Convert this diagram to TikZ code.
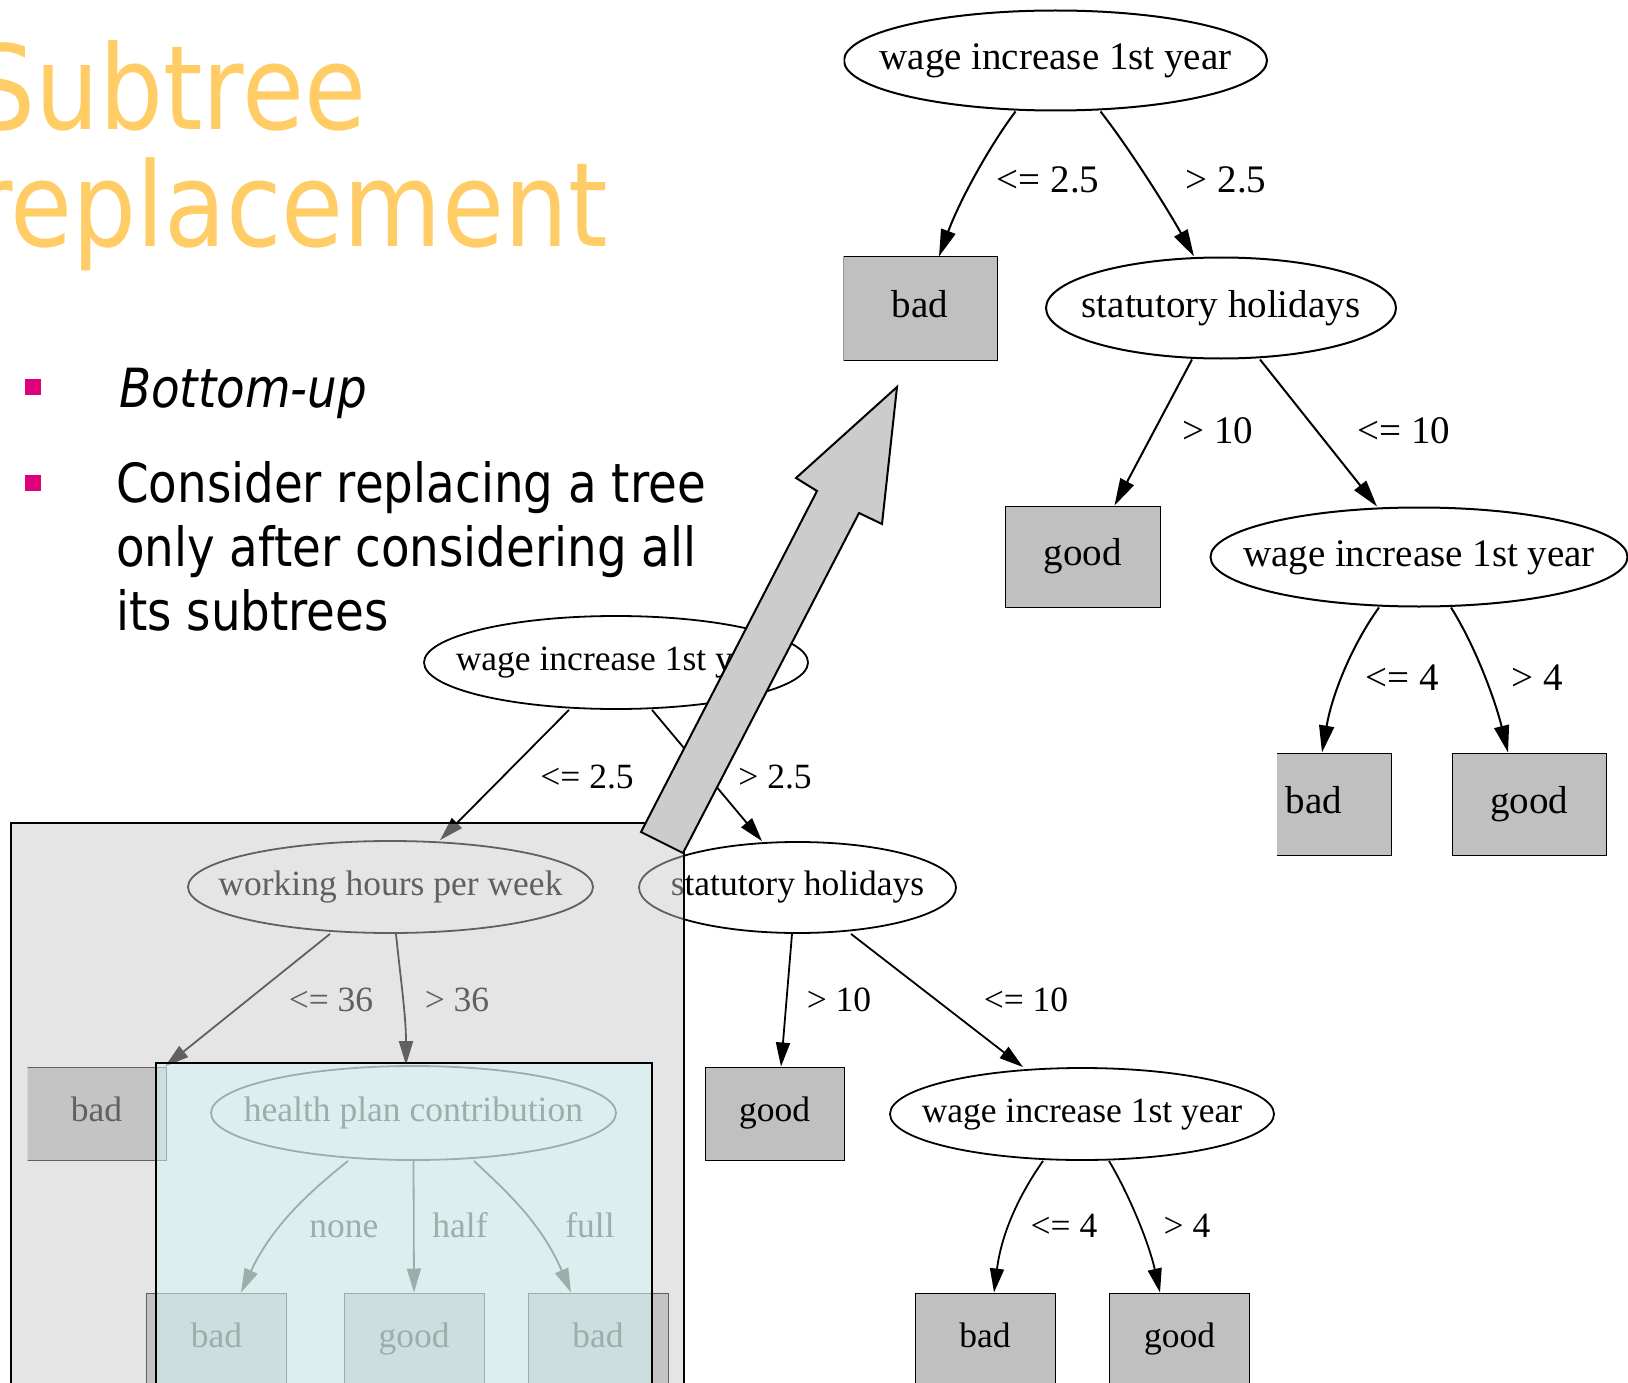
\documentclass[tikz,border=0pt]{standalone}
\usepackage{fontspec}
\setmainfont{Liberation Serif}
\newfontfamily\titlefont[FakeStretch=0.862]{DejaVu Sans}
\newfontfamily\bodyfont[FakeStretch=0.866]{DejaVu Sans}
\usetikzlibrary{shapes.geometric,arrows.meta}
\definecolor{titleorange}{RGB}{255,204,102}
\definecolor{bulletpink}{RGB}{224,0,122}
\definecolor{leafgray}{RGB}{192,192,192}
\definecolor{greyveil}{RGB}{201,201,201}
\definecolor{tealveil}{RGB}{212,249,247}
\definecolor{arrowgray}{RGB}{204,204,204}
\begin{document}
\begin{tikzpicture}[x=1pt,y=-1pt,
  topnode/.style={inner sep=0pt, font=\fontsize{39}{42}\selectfont, text height=27pt, text depth=8.5pt},
  botnode/.style={inner sep=0pt, font=\fontsize{35.5}{38}\selectfont, text height=24.5pt, text depth=7.7pt},
  topell/.style={topnode, ellipse, draw, line width=2pt},
  botell/.style={botnode, ellipse, draw, line width=1.8pt},
  topleaf/.style={topnode, rectangle, draw, fill=leafgray, line width=1pt},
  botleaf/.style={botnode, rectangle, draw, fill=leafgray, line width=1pt},
  toplab/.style={inner sep=0pt, font=\fontsize{39}{42}\selectfont, text height=26pt, text depth=0pt},
  botlab/.style={inner sep=0pt, font=\fontsize{35.5}{38}\selectfont, text height=24pt, text depth=0pt},
  topedge/.style={line width=2pt, -{Triangle[length=27pt,width=15pt]}},
  botedge/.style={line width=1.8pt, -{Triangle[length=24pt,width=14pt]}},
  titletext/.style={anchor=base west, inner sep=0pt, text=titleorange, font=\titlefont\fontsize{117}{120}\selectfont},
  bodytext/.style={anchor=base west, inner sep=0pt, font=\bodyfont\fontsize{54}{60}\selectfont}
]
\useasboundingbox (0,0) rectangle (1628,1383);
\fill[white] (0,0) rectangle (1628,1383);
\clip (0,0) rectangle (1628,1383);

% ---------- title and bullets ----------
\node[titletext] (title1) at (-29,130) {Subtree};
\node[titletext] (title2) at (-29,247) {replacement};
\fill[bulletpink] (25,379) rectangle (41,395);
\fill[bulletpink] (25,475) rectangle (41,491);
\node[bodytext] (b1) at (119,407) {\itshape Bottom-up};
\node[bodytext] (b2a) at (116,502) {Consider replacing a tree};
\node[bodytext] (b2b) at (116,566) {only after considering all};
\node[bodytext] (b2c) at (116,630) {its subtrees};

% ---------- top (pruned) tree ----------
\begin{scope}
\clip (843.5,0) rectangle (1628,855);
\node[topell, minimum width=423pt, minimum height=100pt] (t0) at (1055.5,60.5) {\makebox[0pt]{wage increase 1st year}};
\node[topleaf, minimum width=154pt, minimum height=103pt] (tbad) at (920,308.5) {bad};
\node[topell, minimum width=350pt, minimum height=101pt] (ts) at (1221,308) {\makebox[0pt]{statutory holidays}};
\node[topleaf, minimum width=155pt, minimum height=101pt] (tgood) at (1082.5,556.5) {good};
\node[topell, minimum width=417pt, minimum height=99pt] (tw) at (1419,557) {\makebox[0pt]{wage increase 1st year}};
\begin{scope}
\clip (1277,700) rectangle (1440,900);
\node[topleaf, minimum width=154pt, minimum height=102pt] (tbad2) at (1314,804) {bad};
\end{scope}
\node[topleaf, minimum width=154pt, minimum height=102pt] (tgood2) at (1529,804) {good};

\draw[topedge] ([xshift=-40pt]t0.south) .. controls +(-25,33) and +(21,-57) .. ([xshift=19pt]tbad.north);
\draw[topedge] ([xshift=45pt]t0.south) .. controls +(26,33) and +(-29,-52) .. ([xshift=-27pt]ts.north);
\draw[topedge] ([xshift=-29pt]ts.south) -- ([xshift=32pt]tgood.north);
\draw[topedge] ([xshift=39pt]ts.south) -- ([xshift=-42pt]tw.north);
\draw[topedge] ([xshift=-40pt]tw.south) .. controls +(-24,33) and +(11,-63) .. ([xshift=8pt]tbad2.north);
\draw[topedge] ([xshift=32pt]tw.south) .. controls +(24,38) and +(-13,-53) .. ([xshift=-21pt]tgood2.north);

\node[toplab] (tl1) at (1048,180) {<= 2.5};
\node[toplab] (tl2) at (1226,180) {> 2.5};
\node[toplab] (tl3) at (1218,430) {> 10};
\node[toplab] (tl4) at (1404,430) {<= 10};
\node[toplab] (tl5) at (1402,677) {<= 4};
\node[toplab] (tl6) at (1537,677) {> 4};
\end{scope}

% ---------- bottom (full) tree ----------
\begin{scope}
\clip (27.5,0) rectangle (1628,1383);
\node[botell, minimum width=384pt, minimum height=93pt] (r0) at (616,662.5) {\makebox[0pt]{wage increase 1st year}};
\node[botell, minimum width=405pt, minimum height=92pt] (rw) at (390.5,887) {\makebox[0pt]{working hours per week}};
\node[botell, minimum width=317pt, minimum height=91pt] (rs) at (797.5,887.5) {\makebox[0pt]{statutory holidays}};
\node[botleaf, minimum width=140pt, minimum height=93pt] (rbad) at (96.5,1113.5) {bad};
\node[botell, minimum width=405pt, minimum height=94pt] (rh) at (413.5,1113) {\makebox[0pt]{health plan contribution}};
\node[botleaf, minimum width=139pt, minimum height=93pt] (rgood) at (774.5,1113.5) {good};
\node[botell, minimum width=384pt, minimum height=92pt] (rwg) at (1082,1114) {\makebox[0pt]{wage increase 1st year}};
\node[botleaf, minimum width=140pt, minimum height=93pt] (l1) at (216.5,1339.5) {bad};
\node[botleaf, minimum width=140pt, minimum height=93pt] (l2) at (414,1339.5) {good};
\node[botleaf, minimum width=140pt, minimum height=93pt] (l3) at (598,1339.5) {bad};
\node[botleaf, minimum width=140pt, minimum height=93pt] (l4) at (985,1339.5) {bad};
\node[botleaf, minimum width=140pt, minimum height=93pt] (l5) at (1179.5,1339.5) {good};

\draw[botedge] ([xshift=-47pt]r0.south) -- ([xshift=49.5pt]rw.north);
\draw[botedge] ([xshift=36pt]r0.south) -- ([xshift=-35.5pt]rs.north);
\draw[botedge] ([xshift=-60.5pt]rw.south) -- ([xshift=-2pt]rbad.north east);
\draw[botedge] ([xshift=5.5pt]rw.south) .. controls +(4,40) and +(0,-50) .. ([xshift=-7.5pt]rh.north);
\draw[botedge] ([xshift=-65.5pt]rh.south) .. controls +(-28,23) and +(34,-73) .. ([xshift=24.5pt]l1.north);
\draw[botedge] (rh.south) -- (l2.north);
\draw[botedge] ([xshift=60.5pt]rh.south) .. controls +(26,25) and +(-31,-73) .. ([xshift=-27pt]l3.north);
\draw[botedge] ([xshift=-5.5pt]rs.south) -- ([xshift=6.5pt]rgood.north);
\draw[botedge] ([xshift=53.5pt]rs.south) -- ([xshift=-59pt]rwg.north);
\draw[botedge] ([xshift=-39pt]rwg.south) .. controls +(-21,30) and +(8,-63) .. ([xshift=9pt]l4.north);
\draw[botedge] ([xshift=27pt]rwg.south) .. controls +(18,30) and +(-12,-53) .. ([xshift=-19.5pt]l5.north);

\node[botlab] (bl1) at (587,776) {<= 2.5};
\node[botlab] (bl2) at (775,776) {> 2.5};
\node[botlab] (bl3) at (331,999) {<= 36};
\node[botlab] (bl4) at (457,999) {> 36};
\node[botlab] (bl5) at (344,1225) {none};
\node[botlab] (bl6) at (460,1225) {half};
\node[botlab] (bl7) at (590,1225) {full};
\node[botlab] (bl8) at (839,999) {> 10};
\node[botlab] (bl9) at (1026,999) {<= 10};
\node[botlab] (bl10) at (1064,1225) {<= 4};
\node[botlab] (bl11) at (1187,1225) {> 4};
\end{scope}

% ---------- translucent highlight boxes ----------
\fill[greyveil, opacity=0.48] (11,823) rectangle (684,1395);
\draw[line width=1.5pt] (11,823) rectangle (684,1395);
\fill[tealveil, opacity=0.51] (156,1063) rectangle (652,1395);
\draw[line width=1.5pt] (156,1063) rectangle (652,1395);

% ---------- big block arrow ----------
\draw[fill=arrowgray, line width=2pt, line join=miter]
  (641,832) -- (817,491) -- (796,478) -- (897,387) -- (882,524) -- (859,513) -- (683,853) -- cycle;
\end{tikzpicture}
\end{document}
